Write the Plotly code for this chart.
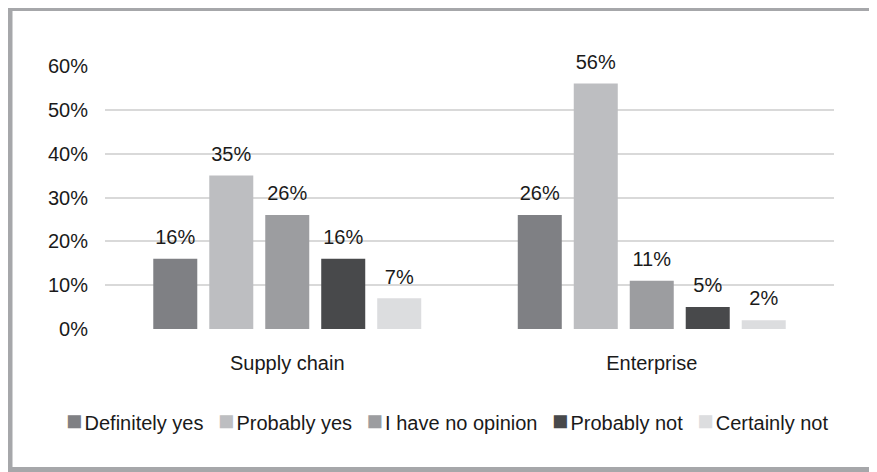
import plotly.graph_objects as go

categories = ["Supply chain", "Enterprise"]
series_names = ["Definitely yes", "Probably yes", "I have no opinion", "Probably not", "Certainly not"]
definitely_yes = [16, 26]
probably_yes = [35, 56]
no_opinion = [26, 11]
probably_not = [16, 5]
certainly_not = [7, 2]
tick_vals = [0, 10, 20, 30, 40, 50, 60]
tick_text = ["0%", "10%", "20%", "30%", "40%", "50%", "60%"]

series_values = [definitely_yes, probably_yes, no_opinion, probably_not, certainly_not]
colors = ["#7f8084", "#bdbec1", "#9c9da0", "#48494b", "#dcdddf"]

W, H = 877, 472
# the page puts the figure 8px in from the top-left corner
L, T = 97, 58
R, B = W - 826, H - 321
pw, ph = W - L - R, H - T - B
FONT = "Liberation Sans"
TXT = "#1a1a1a"
GAP = 0.232

fig = go.Figure()
for i, (name, vals, c) in enumerate(zip(series_names, series_values, colors)):
    fig.add_trace(go.Bar(
        name=name, x=categories, y=vals, offsetgroup=str(i),
        marker=dict(color=c, line=dict(width=0)),
        hoverinfo="skip", showlegend=False,
    ))
for i, (name, vals) in enumerate(zip(series_names, series_values)):
    fig.add_trace(go.Scatter(
        x=categories, y=vals, offsetgroup=str(i), mode="markers+text",
        marker=dict(size=14, opacity=0),
        text=[f"{v}%" for v in vals], textposition="top center",
        textfont=dict(size=20, color=TXT, family=FONT),
        cliponaxis=False, hoverinfo="skip", showlegend=False,
    ))

def px_x(p):
    return (p - L) / pw

def px_y(p):
    return (H - B - p) / ph

fig.add_shape(type="rect", xref="paper", yref="paper",
              x0=px_x(1.5), x1=px_x(867), y0=px_y(0), y1=px_y(462),
              line=dict(color="#a6a7aa", width=6), fillcolor="rgba(0,0,0,0)", layer="below")

sq = "<span style='font-size:27px'>■</span><span style='font-size:8px'> </span>"
legend_text = "<span style='font-size:26px'>  </span>".join(
    f"<span style='color:{c}'>{sq}</span>{n}" for n, c in zip(series_names, colors)
)
fig.add_annotation(xref="paper", yref="paper", x=px_x(447 - 8), y=px_y(413),
                   xanchor="center", yanchor="middle", showarrow=False,
                   text=legend_text, font=dict(size=20, color=TXT, family=FONT))

fig.update_layout(
    width=W, height=H,
    margin=dict(l=L, r=R, t=T, b=B),
    barmode="group", bargap=GAP, bargroupgap=0.214,
    scattermode="group", scattergap=GAP,
    plot_bgcolor="white", paper_bgcolor="white",
    font=dict(family=FONT, size=20, color=TXT),
    xaxis=dict(showgrid=False, showline=False, ticks="", tickfont=dict(size=20),
               range=[-0.5, 1.5], ticklabelstandoff=20),
    yaxis=dict(range=[0, 60], tickvals=tick_vals, ticktext=tick_text,
               showgrid=True, gridcolor="#d9d9d9", gridwidth=2, zeroline=False,
               showline=False, ticks="", ticklabelstandoff=16, tickfont=dict(size=20)),
    showlegend=False,
)

fig.write_html("out.html")
